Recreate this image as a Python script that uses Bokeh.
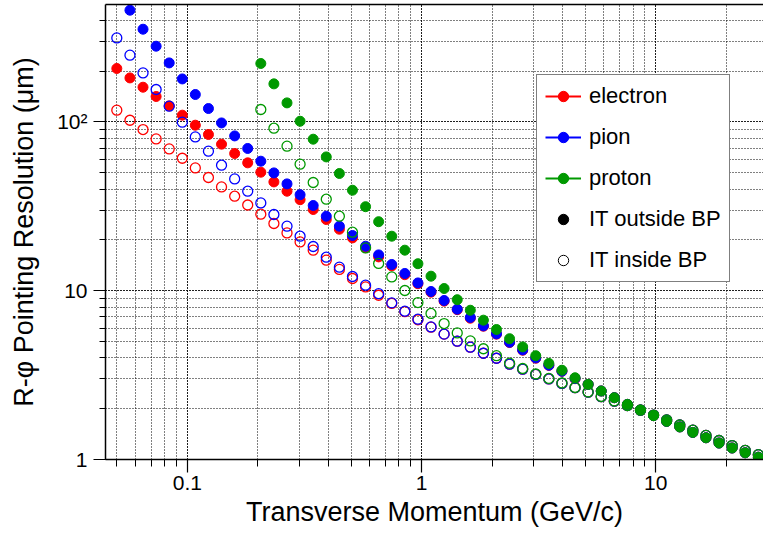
import math
from bokeh.plotting import figure
from bokeh.models import (LogAxis, Legend, LegendItem, CustomJSTickFormatter,
                          FixedTicker)
from bokeh.embed import file_html
from bokeh.resources import INLINE

nan = float("nan")

# transverse momentum (GeV/c)
pt = [0.0500, 0.0569, 0.0647, 0.0736, 0.0837, 0.0952, 0.1082, 0.1231, 0.1400, 0.1593,
      0.1811, 0.2060, 0.2343, 0.2665, 0.3031, 0.3448, 0.3921, 0.4460, 0.5073, 0.5770,
      0.6561, 0.7464, 0.8489, 0.9654, 1.098, 1.249, 1.421, 1.616, 1.838, 2.090,
      2.377, 2.704, 3.075, 3.498, 3.978, 4.525, 5.146, 5.853, 6.657, 7.572,
      8.610, 9.793, 11.14, 12.67, 14.41, 16.39, 18.64, 21.20, 24.11, 27.43]

# IT outside BP (filled)
electron_out = [207.2, 182.2, 160.5, 141.4, 124.4, 109.6, 95.6, 84.2, 73.8, 64.96,
                57.2, 50.35, 44.1, 38.85, 34.6, 30.27, 26.4, 23.13, 20.55, 17.97,
                15.86, 14.03, 12.44, 11.0, 9.80, 8.67, 7.72, 6.87, 6.16, 5.53,
                4.93, 4.44, 3.98, 3.61, 3.33, 3.01, 2.786, 2.546, 2.323, 2.121,
                1.965, 1.818, 1.682, 1.560, 1.447, 1.345, 1.252, 1.170, 1.096, 1.032]
pion_out = [nan, 458.9, 354.1, 280.8, 223.6, 179.7, 145.3, 120.0, 98.6, 82.6,
            69.6, 58.5, 49.87, 42.92, 37.03, 31.96, 27.62, 24.11, 21.23, 18.34,
            16.30, 14.30, 12.65, 11.12, 9.89, 8.75, 7.77, 6.94, 6.19, 5.55,
            4.95, 4.46, 4.00, 3.62, 3.335, 3.02, 2.786, 2.546, 2.323, 2.121,
            1.965, 1.818, 1.682, 1.560, 1.447, 1.345, 1.252, 1.170, 1.096, 1.032]
proton_out = [nan, nan, nan, nan, nan, nan, nan, nan, nan, nan,
              nan, 221.8, 168.0, 129.6, 100.9, 78.98, 62.03, 49.47, 39.38, 31.45,
              25.63, 21.03, 17.38, 14.45, 12.19, 10.30, 8.845, 7.66, 6.69, 5.89,
              5.195, 4.645, 4.12, 3.71, 3.38, 3.05, 2.786, 2.546, 2.323, 2.121,
              1.965, 1.818, 1.682, 1.560, 1.447, 1.345, 1.252, 1.170, 1.096, 1.032]

# IT inside BP (open)
electron_in = [117.3, 102.3, 90.1, 79.3, 69.2, 60.9, 53.4, 46.83, 41.19, 36.29,
               32.19, 28.39, 25.01, 22.00, 19.46, 17.38, 15.16, 13.37, 11.81, 10.53,
               9.40, 8.41, 7.51, 6.73, 6.08, 5.53, 5.02, 4.63, 4.26, 3.98,
               3.67, 3.43, 3.19, 3.00, 2.823, 2.663, 2.504, 2.355, 2.215, 2.089,
               1.959, 1.834, 1.714, 1.601, 1.491, 1.389, 1.296, 1.210, 1.132, 1.068]
pion_in = [314.5, 248.4, 195.1, 155.6, 123.9, 99.6, 81.5, 67.06, 55.39, 45.95,
           38.85, 33.13, 28.28, 24.11, 21.03, 18.27, 15.79, 13.78, 12.14, 10.78,
           9.60, 8.47, 7.56, 6.78, 6.10, 5.53, 5.02, 4.63, 4.26, 3.98,
           3.67, 3.43, 3.19, 3.00, 2.823, 2.663, 2.504, 2.355, 2.215, 2.089,
           1.959, 1.834, 1.714, 1.601, 1.491, 1.389, 1.296, 1.210, 1.132, 1.068]
proton_in = [nan, nan, nan, nan, nan, nan, nan, nan, nan, nan,
             nan, 118.4, 91.75, 71.8, 56.16, 43.74, 34.83, 27.62, 22.21, 17.93,
             14.50, 12.07, 10.03, 8.51, 7.33, 6.39, 5.62, 5.04, 4.53, 4.12,
             3.72, 3.46, 3.21, 3.02, 2.84, 2.670, 2.511, 2.362, 2.221, 2.089,
             1.959, 1.834, 1.714, 1.601, 1.491, 1.389, 1.296, 1.210, 1.132, 1.068]

particles = ["electron", "pion", "proton"]
colors = ["#ff0000", "#0000ff", "#009900"]
FONT = "Liberation Sans"

p = figure(width=763, height=537, x_axis_type="log", y_axis_type="log",
           x_range=(0.04474, 28.86), y_range=(1.0, 496.0),
           output_backend="svg", toolbar_location=None,
           min_border_left=105, min_border_right=0, min_border_top=4, min_border_bottom=78)
p.title.visible = False
p.outline_line_color = None
p.background_fill_color = "white"
p.border_fill_color = "white"

outs = [electron_out, pion_out, proton_out]
ins = [electron_in, pion_in, proton_in]
for name, col, yo, yi in zip(particles, colors, outs, ins):
    p.scatter(pt, yo, marker="circle", size=10, fill_color=col, line_color=col, line_width=1)
    p.scatter(pt, yi, marker="circle", size=10, fill_color=None, line_color=col, line_width=1.3)

# axes
xa = p.xaxis[0]
ya = p.yaxis[0]
for ax in (xa, ya):
    ax.axis_line_color = "black"
    ax.axis_line_width = 1.5
    ax.major_tick_line_color = "black"
    ax.minor_tick_line_color = "black"
    ax.major_tick_line_width = 1.2
    ax.major_tick_in = 0
    ax.minor_tick_in = 0
    ax.major_label_text_font = FONT
    ax.major_label_text_font_size = "21px"
    ax.major_label_text_color = "black"
    ax.axis_label_text_font = FONT
    ax.axis_label_text_font_size = "27px"
    ax.axis_label_text_font_style = "normal"
    ax.axis_label_text_color = "black"
    ax.ticker.num_minor_ticks = 10

xa.axis_label = "Transverse Momentum (GeV/c)"
xa.major_tick_out = 13
xa.minor_tick_out = 7
xa.major_label_standoff = 3
xa.axis_label_standoff = 4
xa.formatter = CustomJSTickFormatter(code="return (Math.round(tick*1000)/1000).toString();")

ya.axis_label = "R-\u03c6 Pointing Resolution (\u03bcm)"
ya.major_tick_out = 12
ya.minor_tick_out = 6
ya.major_label_standoff = 6
ya.axis_label_standoff = 15
ya.formatter = CustomJSTickFormatter(
    code="if (Math.abs(tick-100) < 1e-6) { return '10\u00b2'; } return Math.round(tick).toString();")

top = LogAxis(ticker=FixedTicker(ticks=[]), axis_line_color="black", axis_line_width=1.5,
              major_label_text_font_size="0px", major_tick_out=0, minor_tick_out=0,
              major_label_standoff=0)
p.add_layout(top, "above")

for g in (p.xgrid[0], p.ygrid[0]):
    g.grid_line_color = "black"
    g.grid_line_alpha = 1.0
    g.grid_line_dash = "1 2"
    g.grid_line_width = 1
    g.minor_grid_line_color = "black"
    g.minor_grid_line_alpha = 1.0
    g.minor_grid_line_dash = "1 2"
    g.minor_grid_line_width = 1

# legend (glyph-only renderers with no visible data)
items = []
for name, col in zip(particles, colors):
    rl = p.line(x=[nan], y=[nan], line_color=col, line_width=2)
    rs = p.scatter(x=[nan], y=[nan], marker="circle", size=10, fill_color=col, line_color=col)
    items.append(LegendItem(label=name, renderers=[rl, rs]))
r_out = p.scatter(x=[nan], y=[nan], marker="circle", size=8, fill_color="black", line_color="black")
r_in = p.scatter(x=[nan], y=[nan], marker="circle", size=8, fill_color=None, line_color="black", line_width=1)
items.append(LegendItem(label="IT outside BP", renderers=[r_out]))
items.append(LegendItem(label="IT inside BP", renderers=[r_in]))

legend = Legend(items=items, location=(431, 177))
legend.label_text_font = FONT
legend.label_text_font_size = "22px"
legend.label_text_color = "black"
legend.glyph_width = 36
legend.glyph_height = 26
legend.label_height = 26
legend.spacing = 15
legend.padding = 8
legend.label_standoff = 8
legend.margin = 0
legend.border_line_color = "black"
legend.border_line_width = 1
legend.background_fill_color = "white"
legend.background_fill_alpha = 1.0
p.add_layout(legend)

open("out.html", "w").write(file_html(p, INLINE))
